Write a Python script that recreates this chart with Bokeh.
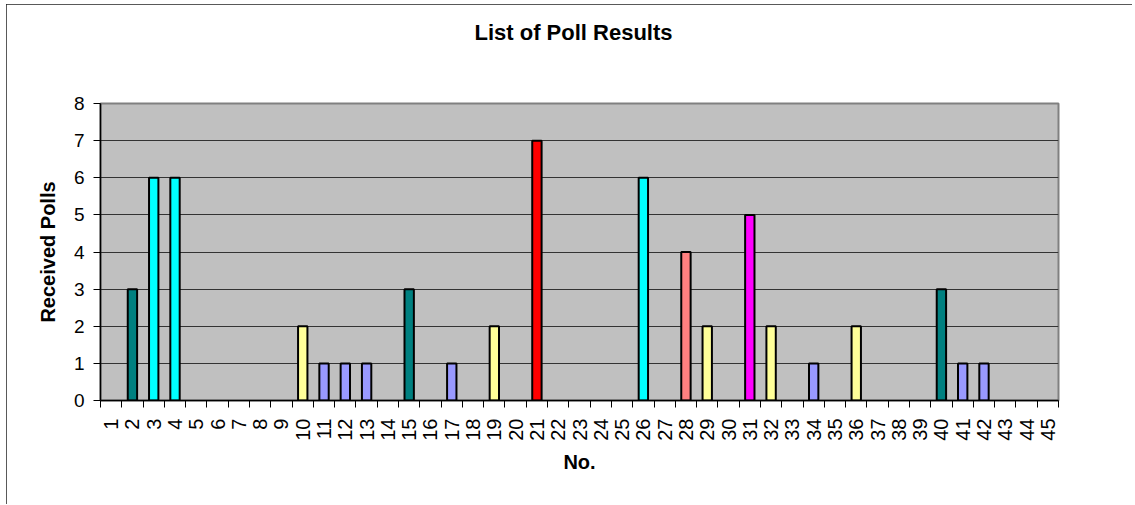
import math
from bokeh.plotting import figure
from bokeh.models import FixedTicker, Range1d, ColumnDataSource, Title
from bokeh.embed import file_html
from bokeh.resources import INLINE

# ---- data ----
numbers = list(range(1, 46))
polls = [0, 3, 6, 6, 0, 0, 0, 0, 0, 2,
         1, 1, 1, 0, 3, 0, 1, 0, 2, 0,
         7, 0, 0, 0, 0, 6, 0, 4, 2, 0,
         5, 2, 0, 1, 0, 2, 0, 0, 0, 3,
         1, 1, 0, 0, 0]
# colour used for a bar of each poll count (index = count)
count_colors = ["#C0C0C0", "#9999FF", "#FFFF99", "#008080",
                "#FF8080", "#FF00FF", "#00FFFF", "#FF0000"]
y_ticks = list(range(0, 9))
title_text = "List of Poll Results"
x_title = "No."
y_title = "Received Polls"

# only numbers that received polls get a bar
xs = [n for n, v in zip(numbers, polls) if v > 0]
tops = [v for v in polls if v > 0]
src = ColumnDataSource(dict(x=xs, top=tops, color=[count_colors[v] for v in tops]))

FONT = "Liberation Sans"

p = figure(width=1126, height=500, output_backend="svg", toolbar_location=None,
           x_range=Range1d(0.5, 45.5), y_range=Range1d(0, 8),
           min_border_left=94, min_border_right=74,
           min_border_top=99, min_border_bottom=104,
           title=None)
p.styles = {"outline": "1px solid #222", "outline-offset": "-1px",
            "margin-left": "6px", "margin-top": "4px"}

# spacer between the chart title and the plot area
p.add_layout(Title(text=" ", text_font_size="2px", standoff=53), "above")
# chart title
p.add_layout(Title(text=title_text, align="left", offset=374, vertical_align="top",
                   standoff=0, text_font=FONT, text_font_size="22px",
                   text_font_style="bold", text_color="black"), "above")

p.background_fill_color = "#C0C0C0"
p.border_fill_color = "white"
p.outline_line_color = "#808080"
p.outline_line_width = 2

p.vbar(x="x", top="top", width=0.44, bottom=0, source=src,
       fill_color="color", line_color="black", line_width=2)

# grid
p.xgrid.grid_line_color = None
p.ygrid.ticker = FixedTicker(ticks=y_ticks)
p.ygrid.grid_line_color = "#333333"
p.ygrid.grid_line_width = 1.2

# x axis
xa = p.xaxis[0]
xa.ticker = FixedTicker(ticks=numbers, minor_ticks=[n - 0.5 for n in numbers] + [numbers[-1] + 0.5])
xa.major_tick_line_color = None
xa.major_tick_out = 7
xa.major_tick_in = 0
xa.minor_tick_line_color = "black"
xa.minor_tick_out = 7
xa.minor_tick_in = 0
xa.axis_line_color = "black"
xa.axis_line_width = 1.5
xa.major_label_orientation = math.pi / 2
xa.major_label_text_font = FONT
xa.major_label_text_font_size = "20px"
xa.major_label_text_color = "black"
xa.major_label_standoff = 11
xa.axis_label = x_title
xa.axis_label_text_font = FONT
xa.axis_label_text_font_size = "20px"
xa.axis_label_text_font_style = "bold"
xa.axis_label_text_color = "black"
xa.axis_label_standoff = 7

# y axis
ya = p.yaxis[0]
ya.ticker = FixedTicker(ticks=y_ticks)
ya.major_tick_line_color = "black"
ya.major_tick_out = 7
ya.major_tick_in = 0
ya.minor_tick_line_color = None
ya.axis_line_color = "black"
ya.axis_line_width = 1.5
ya.major_label_text_font = FONT
ya.major_label_text_font_size = "19px"
ya.major_label_text_color = "black"
ya.major_label_standoff = 9
ya.axis_label = y_title
ya.axis_label_text_font = FONT
ya.axis_label_text_font_size = "20px"
ya.axis_label_text_font_style = "bold"
ya.axis_label_text_color = "black"
ya.axis_label_standoff = 12

open("out.html", "w").write(file_html(p, INLINE))
